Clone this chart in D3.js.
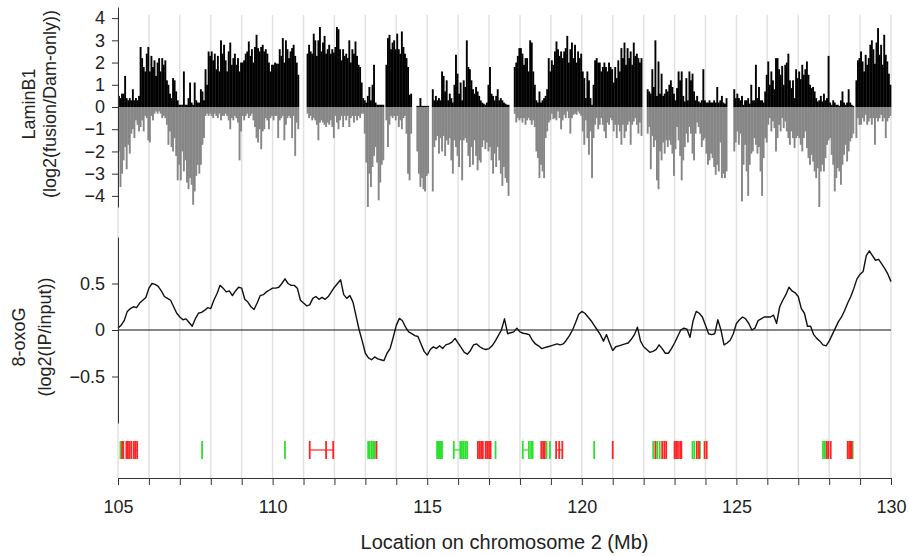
<!DOCTYPE html>
<html>
<head>
<meta charset="utf-8">
<script src="https://cdnjs.cloudflare.com/ajax/libs/d3/7.8.5/d3.min.js"></script>
<style>
  body { margin: 0; background: #fff; }
  svg { display: block; font-family: "Liberation Sans", Arial, Helvetica, sans-serif; }
  .axis path, .axis line { stroke: #333; }
  .axis text { fill: #222; font-size: 18px; }
</style>
</head>
<body>
<div id="chart"></div>
<script>

// LaminB1 DamID, log2(fusion/Dam-only), one value per 0.05 Mb bin from 105 Mb (null = no probes)
var laminPos = [
  0.5,0.4,0.6,0.6,1.4,0.4,0.3,0.4,0.3,0.8,0.3,0.4,0.3,0.5,2.7,2.2,1.8,1.6,2.4,2.7,
  1.6,2.3,1.8,2.1,1.4,2.0,2.2,1.6,2.2,1.9,2.1,1.2,1.0,0.6,0.4,1.3,1.2,0.7,0.3,0.1,
  0.1,0.1,1.6,0.1,0.1,0.4,1.1,0.2,0.1,1.1,0.3,0.2,0.2,0.8,0.7,0.3,1.7,1.0,2.5,2.3,
  2.5,2.1,2.4,1.7,2.3,1.6,3.0,2.4,2.8,2.1,1.6,2.5,2.9,1.9,2.2,2.4,1.9,2.2,1.6,2.0,
  2.0,2.1,2.4,2.5,2.95,2.3,2.6,2.0,2.7,3.25,2.65,2.5,2.7,2.8,2.5,2.6,2.4,2.0,1.6,1.9,
  1.9,2.0,1.95,1.95,2.6,2.3,3.1,2.0,3.0,2.6,2.2,2.5,2.65,2.8,2.3,2.0,1.45,null,null,null,
  null,null,2.4,2.8,2.5,2.4,3.3,3.0,2.3,3.0,3.6,2.5,2.9,3.2,2.4,2.6,2.8,2.4,2.6,2.45,
  2.7,3.6,3.5,2.6,2.1,2.6,2.3,2.4,2.2,3.0,2.0,2.6,2.4,2.95,2.3,1.9,1.8,1.1,0.4,0.3,
  0.2,0.5,0.9,0.3,1.0,1.9,0.2,0.1,0.1,0.1,0.1,0.1,null,1.9,3.1,3.25,2.6,2.9,3.0,2.6,
  3.3,2.6,2.4,3.4,2.7,2.4,2.2,1.8,0.55,0.6,null,null,null,0.05,0.05,0.4,0.05,0.05,0.05,0.05,
  0.05,null,null,0.8,0.3,0.5,0.3,0.4,0.3,1.6,1.4,0.7,1.2,0.3,0.6,0.4,0.2,1.0,2.35,1.5,
  0.6,1.1,0.3,1.2,0.9,3.0,1.8,1.7,1.2,0.8,0.6,0.9,0.7,0.5,0.3,0.2,0.15,0.1,0.2,1.0,
  1.8,0.6,0.5,0.3,0.5,0.8,0.3,0.4,0.3,0.2,0.15,0.1,0.1,null,null,null,1.8,2.0,2.3,2.65,
  2.65,2.4,1.9,2.2,2.2,1.6,3.0,2.9,1.6,1.0,0.3,0.2,0.7,0.2,0.3,0.4,0.5,0.8,2.2,1.6,
  2.1,1.9,2.5,2.95,2.6,2.3,2.5,2.2,2.5,2.65,3.2,2.0,2.6,2.9,2.2,2.8,2.0,2.5,2.2,2.4,
  1.6,1.3,0.4,1.6,1.2,0.4,0.1,1.0,2.1,2.2,2.0,2.0,1.6,1.8,2.0,1.8,1.6,2.0,1.8,1.7,
  1.1,1.8,1.3,2.1,1.6,2.65,2.2,2.9,1.9,2.65,2.2,2.5,1.9,2.9,2.3,2.4,2.2,2.0,2.2,null,
  null,null,0.8,0.7,0.6,1.7,0.9,3.0,0.5,2.05,0.6,1.5,0.5,0.6,0.8,0.7,1.0,1.2,0.9,0.6,
  0.3,0.85,1.6,1.2,1.6,0.5,0.25,1.3,0.3,1.6,1.2,1.5,0.7,0.3,0.5,0.25,0.2,0.3,1.7,0.3,
  0.2,0.2,0.3,0.2,0.2,0.3,0.2,0.9,0.2,0.3,0.5,0.2,0.15,0.4,null,null,null,null,0.8,0.4,
  0.6,0.4,0.3,0.5,0.1,0.3,0.3,0.4,0.15,1.0,0.3,0.3,1.9,0.4,0.9,0.3,0.3,0.2,0.7,1.45,
  2.05,1.0,1.6,1.2,0.8,2.2,2.2,1.7,1.45,1.85,1.0,1.9,2.0,2.4,1.2,0.85,1.2,0.4,1.7,1.3,
  1.6,1.25,1.9,1.45,1.7,2.05,1.45,1.0,0.85,0.9,0.7,0.4,0.25,0.3,0.5,0.25,0.6,0.3,0.4,2.3,
  0.2,0.1,0.3,0.2,0.1,0.1,0.05,0.3,0.7,0.2,0.1,0.2,0.8,0.2,0.1,0.05,null,1.2,2.1,2.2,
  2.5,2.05,1.6,2.35,1.9,2.2,2.8,3.0,2.6,1.95,2.9,3.55,2.35,2.8,1.9,3.25,2.35,2.05,1.5,1.0
];

var laminNeg = [
  -2.0,-3.6,-3.0,-2.4,-1.8,-2.8,-1.7,-2.1,-1.2,-1.0,-1.4,-0.6,-0.8,-1.1,-0.9,-0.6,-1.1,-0.4,-0.5,-1.5,
  -1.6,-0.4,-0.6,-0.3,-0.2,-0.3,-0.2,-0.3,-0.5,-0.4,-0.5,-0.8,-1.7,-1.1,-1.8,-2.0,-1.4,-2.2,-3.3,-2.6,
  -3.3,-2.0,-2.9,-2.4,-3.4,-3.7,-3.2,-3.5,-4.4,-3.8,-3.1,-2.6,-3.0,-2.6,-1.7,-1.4,-0.4,-0.3,-0.4,-0.3,
  -0.4,-0.5,-0.3,-0.4,-0.5,-0.3,-0.6,-0.4,-0.4,-0.3,-0.4,-0.6,-1.0,-0.5,-0.6,-0.4,-0.5,-0.7,-2.4,-1.1,
  -0.4,-0.6,-0.4,-0.3,-0.5,-0.4,-0.3,-0.6,-0.9,-1.4,-1.6,-1.0,-1.9,-1.1,-1.0,-0.5,-0.6,-1.0,-0.5,-0.4,
  -0.6,-0.4,-0.4,-1.4,-0.6,-0.5,-0.4,-1.5,-0.8,-0.5,-0.4,-0.5,-1.4,-0.4,-2.2,-0.7,-1.0,null,null,null,
  null,null,-0.3,-0.5,-0.4,-0.6,-0.5,-0.6,-0.8,-1.5,-0.7,-0.6,-0.7,-0.8,-0.9,-0.7,-0.8,-0.6,-0.9,-1.4,
  -0.4,-0.7,-1.0,-0.6,-0.4,-0.9,-0.4,-0.6,-0.4,-0.9,-0.5,-0.4,-0.7,-0.4,-0.6,-0.4,-0.5,-0.3,-0.3,-1.2,
  -2.5,-4.5,-3.0,-3.6,-2.7,-2.2,-1.8,-2.5,-4.2,-3.4,-2.6,-2.4,null,-0.6,-1.8,-0.8,-0.4,-0.5,-0.4,-0.6,
  -0.4,-0.9,-0.6,-1.0,-0.5,-0.4,-1.2,-3.0,-3.3,-1.2,null,null,null,-2.0,-3.0,-3.6,-3.2,-3.7,-3.8,-3.1,
  -3.0,null,null,-3.8,-1.8,-1.5,-1.3,-2.1,-1.4,-2.0,-1.3,-2.2,-1.5,-1.7,-1.4,-2.4,-3.0,-1.5,-1.8,-2.2,
  -2.7,-1.5,-3.3,-1.5,-1.4,-1.6,-2.2,-2.7,-1.8,-2.6,-1.5,-2.2,-2.85,-2.4,-2.5,-1.8,-1.5,-1.9,-1.6,-2.0,
  -1.8,-2.4,-3.0,-2.1,-2.7,-1.8,-2.4,-3.0,-3.55,-2.7,-3.2,-3.4,-4.0,null,null,null,-0.3,-0.7,-0.5,-0.6,
  -0.5,-0.7,-0.5,-0.8,-0.6,-0.5,-0.6,-0.8,-0.6,-0.9,-2.0,-2.3,-3.2,-2.6,-2.9,-3.2,-1.4,-1.1,-0.7,-0.6,
  -0.3,-0.55,-0.5,-0.6,-0.2,-0.5,-1.0,-0.6,-0.35,-0.5,-0.2,-0.5,-1.2,-0.5,-0.35,-0.3,-0.35,-0.2,-0.3,-0.4,
  -1.1,-1.7,-0.6,-1.4,-2.15,-1.1,-3.2,-1.4,-0.8,-0.5,-1.0,-0.8,-0.5,-0.8,-1.1,-1.4,-0.7,-0.8,-0.5,-0.6,
  -1.1,-0.8,-1.4,-0.8,-1.1,-1.7,-0.8,-1.4,-1.1,-0.8,-0.65,-1.7,-0.8,-0.65,-0.5,-0.8,-1.2,-0.7,-1.3,null,
  null,null,-1.2,-0.9,-2.8,-1.3,-1.8,-1.5,-3.3,-3.7,-2.0,-2.4,-1.6,-2.1,-1.5,-1.8,-1.5,-1.7,-2.1,-3.1,
  -1.9,-0.9,-1.5,-2.2,-3.3,-2.4,-1.8,-1.2,-1.6,-0.9,-1.2,-2.1,-2.4,-1.2,-0.7,-0.9,-1.2,-1.8,-1.5,-1.4,
  -2.1,-2.6,-2.4,-2.1,-2.3,-2.7,-3.05,-2.6,-2.9,-1.6,-3.2,-3.0,-3.2,-2.9,null,null,null,null,-2.0,-1.6,
  -1.1,-1.7,-1.2,-4.25,-2.6,-1.7,-2.9,-4.0,-2.6,-2.1,-2.0,-1.4,-1.7,-2.1,-1.8,-2.9,-4.0,-2.3,-1.4,-1.6,
  -0.8,-0.5,-1.1,-0.65,-0.95,-2.0,-1.4,-0.8,-1.1,-0.5,-0.95,-0.65,-1.1,-1.4,-1.7,-1.1,-1.4,-1.85,-1.4,-1.3,
  -1.4,-1.7,-2.0,-1.4,-1.1,-1.85,-2.3,-2.6,-2.15,-2.45,-2.9,-3.2,-2.75,-4.5,-2.9,-2.6,-2.9,-2.3,-1.7,-1.5,
  -1.4,-2.15,-2.6,-3.8,-3.2,-2.75,-2.9,-3.5,-2.6,-2.15,-1.7,-2.45,-2.0,-1.55,-1.4,-1.2,null,-1.4,-0.5,-0.8,
  -0.8,-0.5,-0.65,-0.35,-0.8,-0.65,-0.5,-0.8,-0.5,-1.7,-0.5,-0.65,-0.5,-0.35,-0.65,-0.5,-1.4,-0.65,-0.5,-0.4
];

// 8-oxoG enrichment, log2(IP/input), every 0.1 Mb from 105.0 to 130.0
var oxoG = [
  0.02,0.05,0.10,0.20,0.23,0.25,0.24,0.29,0.32,0.35,
  0.45,0.50,0.49,0.47,0.42,0.36,0.34,0.32,0.25,0.18,
  0.14,0.11,0.12,0.08,0.04,0.12,0.18,0.19,0.21,0.24,
  0.23,0.32,0.39,0.48,0.45,0.41,0.42,0.37,0.42,0.46,
  0.45,0.33,0.30,0.25,0.22,0.29,0.37,0.38,0.41,0.43,
  0.45,0.45,0.46,0.50,0.55,0.50,0.48,0.48,0.45,0.32,
  0.29,0.26,0.27,0.34,0.36,0.33,0.35,0.33,0.36,0.41,
  0.46,0.50,0.54,0.38,0.34,0.37,0.30,0.15,0.00,-0.12,
  -0.25,-0.30,-0.32,-0.29,-0.31,-0.32,-0.33,-0.25,-0.20,-0.08,
  0.05,0.125,0.10,0.03,-0.02,-0.04,-0.06,-0.07,-0.15,-0.23,
  -0.27,-0.21,-0.18,-0.20,-0.17,-0.20,-0.16,-0.15,-0.13,-0.09,
  -0.14,-0.19,-0.24,-0.26,-0.22,-0.16,-0.15,-0.18,-0.20,-0.21,
  -0.20,-0.17,-0.12,-0.06,0.00,0.12,-0.04,-0.03,-0.02,0.02,
  -0.02,-0.035,-0.04,-0.05,-0.11,-0.15,-0.17,-0.20,-0.19,-0.18,
  -0.17,-0.16,-0.15,-0.16,-0.15,-0.11,-0.06,0.00,0.08,0.17,
  0.20,0.18,0.14,0.10,0.05,0.00,-0.05,-0.12,-0.05,-0.14,
  -0.22,-0.18,-0.17,-0.16,-0.15,-0.14,-0.10,-0.05,0.03,-0.12,
  -0.18,-0.21,-0.24,-0.23,-0.21,-0.16,-0.20,-0.25,-0.25,-0.20,
  -0.14,-0.07,0.00,0.02,0.01,-0.08,0.10,0.20,0.18,0.14,
  0.05,-0.04,-0.05,-0.04,0.11,0.00,-0.16,-0.14,-0.11,-0.04,
  0.07,0.11,0.14,0.12,0.07,0.00,0.02,0.10,0.12,0.14,
  0.14,0.14,0.16,0.07,0.25,0.32,0.38,0.46,0.42,0.40,
  0.36,0.23,0.18,0.04,0.04,-0.05,-0.09,-0.12,-0.16,-0.17,
  -0.12,-0.05,0.02,0.09,0.14,0.21,0.29,0.36,0.45,0.55,
  0.60,0.63,0.80,0.85,0.80,0.75,0.76,0.71,0.66,0.60,
  0.52
];

// site tracks (Mb)
var greenSites = [105.08, 107.72, 110.40, 113.09, 113.14, 113.20, 113.25, 113.30,
  115.32, 115.36, 115.40, 115.44, 115.48, 115.86, 116.07, 116.12, 116.17, 116.23, 116.29,
  117.21, 118.09, 118.29, 118.36, 118.41, 118.86, 118.97, 120.40, 122.31, 122.44, 122.52,
  123.58, 123.64, 123.82, 127.80, 127.86, 128.76];
var redSites = [105.13, 105.17, 105.27, 105.32, 105.37, 105.43, 105.51, 105.56, 105.62,
  111.20, 111.73, 111.96, 113.36, 116.64, 116.70, 116.75, 116.80, 116.89, 116.94, 117.00, 117.05,
  118.69, 118.75, 118.80, 119.17, 119.27, 119.37, 121.00, 122.38, 122.60, 122.67, 122.73,
  123.00, 123.05, 123.11, 123.18, 123.22, 123.72, 123.79, 123.97, 124.04,
  127.92, 127.97, 128.05, 128.60, 128.65, 128.70, 128.73];
var greenSpans = [[115.86, 116.07], [118.09, 118.29]];
var redSpans = [[105.51, 105.62], [111.20, 111.96], [119.17, 119.37]];

var xTicks = d3.range(105, 131);
var laminTicks = [-4, -3, -2, -1, 0, 1, 2, 3, 4];
var oxoTicks = [-0.5, 0, 0.5];

var binSize = 0.05,
    oxoStep = 0.1;

var width = 909,
    height = 556;

var svg = d3.select('#chart')
  .append('svg')
  .attr('width', width)
  .attr('height', height);

var x = d3.scaleLinear().domain([105, 130]).range([118, 891]);
var yTop = d3.scaleLinear().domain([-4.5, 4.5]).range([207, 7]);
var yMid = d3.scaleLinear().domain([-1, 1]).range([423, 237]);
var axisY = 478,
    siteTop = 441,
    siteBottom = 459;

// vertical grid at every Mb
svg.append('g').selectAll('line')
  .data(xTicks)
  .enter()
  .append('line')
  .attr('x1', function(d) { return x(d); })
  .attr('x2', function(d) { return x(d); })
  .attr('y1', 15)
  .attr('y2', axisY)
  .attr('stroke', '#e2e2e2')
  .attr('stroke-width', 1.5);

// LaminB1 bars
var bins = laminPos.map(function(v, i) {
  return { start: 105 + i * binSize, pos: v, neg: laminNeg[i] };
});
var bw = x(105 + binSize) - x(105) + 0.35;

svg.append('g').selectAll('rect')
  .data(bins.filter(function(d) { return d.neg != null; }))
  .enter()
  .append('rect')
  .attr('x', function(d) { return x(d.start); })
  .attr('width', bw)
  .attr('y', yTop(0))
  .attr('height', function(d) { return yTop(d.neg) - yTop(0); })
  .attr('fill', '#868686');

svg.append('g').selectAll('rect')
  .data(bins.filter(function(d) { return d.pos != null; }))
  .enter()
  .append('rect')
  .attr('x', function(d) { return x(d.start); })
  .attr('width', bw)
  .attr('y', function(d) { return yTop(d.pos); })
  .attr('height', function(d) { return yTop(0) - yTop(d.pos); })
  .attr('fill', '#000');

svg.append('g')
  .attr('class', 'axis')
  .attr('transform', 'translate(' + x(105) + ',0)')
  .call(d3.axisLeft(yTop).tickValues(laminTicks).tickSize(6).tickSizeOuter(0).tickPadding(7))
  .selectAll('text').style('font-size', '18px');

// 8-oxoG line
svg.append('line')
  .attr('x1', x(105)).attr('x2', x(130))
  .attr('y1', yMid(0)).attr('y2', yMid(0))
  .attr('stroke', '#111')
  .attr('stroke-width', 1.2);

var line = d3.line()
  .x(function(d, i) { return x(105 + i * oxoStep); })
  .y(function(d) { return yMid(d); });

svg.append('path')
  .datum(oxoG)
  .attr('d', line)
  .attr('fill', 'none')
  .attr('stroke', '#111')
  .attr('stroke-width', 1.4)
  .attr('stroke-linejoin', 'round');

svg.append('g')
  .attr('class', 'axis')
  .attr('transform', 'translate(' + x(105) + ',0)')
  .call(d3.axisLeft(yMid).tickValues(oxoTicks).tickSize(6).tickSizeOuter(0).tickPadding(7)
    .tickFormat(function(d) { return d === 0 ? '0' : d3.format('.1f')(d); }));

// site tracks
function drawSites(sites, spans, color) {
  var g = svg.append('g').attr('stroke', color).attr('stroke-width', 1.8);
  g.selectAll('line.site')
    .data(sites)
    .enter()
    .append('line')
    .attr('class', 'site')
    .attr('x1', function(d) { return x(d); })
    .attr('x2', function(d) { return x(d); })
    .attr('y1', siteTop)
    .attr('y2', siteBottom);
  g.selectAll('line.span')
    .data(spans)
    .enter()
    .append('line')
    .attr('class', 'span')
    .attr('x1', function(d) { return x(d[0]); })
    .attr('x2', function(d) { return x(d[1]); })
    .attr('y1', (siteTop + siteBottom) / 2)
    .attr('y2', (siteTop + siteBottom) / 2)
    .attr('stroke-width', 1.2);
}
drawSites(greenSites, greenSpans, '#2ee02e');
drawSites(redSites, redSpans, '#ff2424');

svg.append('g')
  .attr('class', 'axis')
  .attr('transform', 'translate(0,' + axisY + ')')
  .call(d3.axisBottom(x).tickValues(xTicks).tickSize(7).tickSizeOuter(0).tickPadding(15)
    .tickFormat(function(d) { return d % 5 === 0 ? d : ''; }));

// titles
svg.append('text')
  .attr('x', (x(105) + x(130)) / 2)
  .attr('y', 549)
  .attr('text-anchor', 'middle')
  .style('font-size', '20px')
  .attr('fill', '#222')
  .text('Location on chromosome 2 (Mb)');

function yTitle(lines, cy) {
  lines.forEach(function(l) {
    svg.append('text')
      .attr('transform', 'translate(' + l[1] + ',' + cy + ') rotate(-90)')
      .attr('text-anchor', 'middle')
      .style('font-size', '18px')
      .attr('fill', '#222')
      .text(l[0]);
  });
}
yTitle([['LaminB1', 35], ['(log2(fusion/Dam-only))', 56]], 104);
yTitle([['8-oxoG', 25], ['(log2(IP/input))', 51]], 337);

</script>
</body>
</html>
